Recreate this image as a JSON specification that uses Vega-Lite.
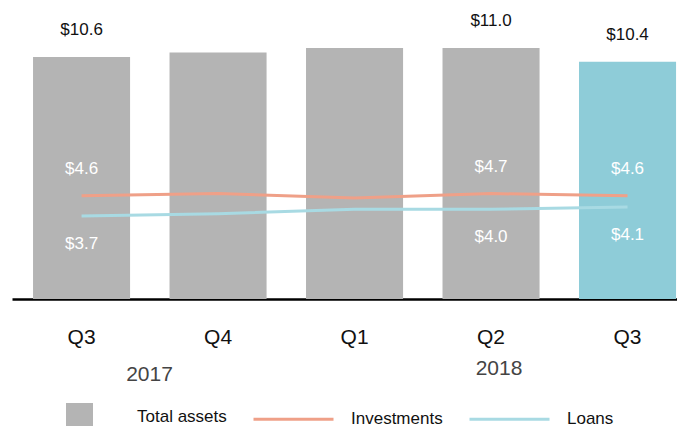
{
  "$schema": "https://vega.github.io/schema/vega-lite/v6.json",
  "width": 665,
  "height": 299,
  "autosize": "none",
  "padding": {"left": 12, "top": 0, "right": 0, "bottom": 127},
  "background": "white",
  "config": {"view": {"stroke": null}, "font": "Liberation Sans"},
  "data": {
    "values": [
      {"q": "Q3 2017", "Total assets": 10.6, "Investments": 4.6, "Loans": 3.7, "show": true, "highlight": false},
      {"q": "Q4 2017", "Total assets": 10.8, "Investments": 4.7, "Loans": 3.8, "show": false, "highlight": false},
      {"q": "Q1 2018", "Total assets": 11.0, "Investments": 4.5, "Loans": 4.0, "show": false, "highlight": false},
      {"q": "Q2 2018", "Total assets": 11.0, "Investments": 4.7, "Loans": 4.0, "show": true, "highlight": false},
      {"q": "Q3 2018", "Total assets": 10.4, "Investments": 4.6, "Loans": 4.1, "show": true, "highlight": true}
    ]
  },
  "encoding": {
    "x": {
      "field": "q", "type": "ordinal", "sort": null,
      "scale": {"domain": ["Q3 2017", "Q4 2017", "Q1 2018", "Q2 2018", "Q3 2018"], "paddingInner": 0.289, "paddingOuter": 0.0805, "align": 0.957},
      "axis": {
        "title": null, "labelAngle": 0, "ticks": false, "grid": false,
        "domainColor": "#000000", "domainWidth": 2.5,
        "labelFontSize": 21, "labelColor": "#111111", "labelBaseline": "middle", "labelPadding": 38,
        "labelFont": "Liberation Sans",
        "labelExpr": "split(datum.label, ' ')[0]"
      }
    }
  },
  "layer": [
    {
      "encoding": {
        "y": {"type": "quantitative", "scale": {"domain": [0, 13.1], "nice": false, "zero": true}, "axis": null}
      },
      "layer": [
        {
          "transform": [{"fold": ["Total assets"], "as": ["series", "val"]}],
          "mark": {"type": "bar"},
          "encoding": {
            "y": {"field": "val", "type": "quantitative"},
            "color": {
              "condition": {"test": "datum.highlight", "value": "#8ECCD8"},
              "field": "series", "type": "nominal",
              "scale": {"domain": ["Total assets", "Investments", "Loans"], "range": ["#B4B4B4", "#EFA088", "#A8DAE3"]},
              "legend": {
                "title": null, "orient": "none", "direction": "horizontal",
                "legendX": 59, "legendY": 408,
                "symbolType": "stroke", "symbolSize": 6400, "symbolStrokeWidth": 3,
                "labelFontSize": 17, "labelColor": "#111111", "labelFont": "Liberation Sans",
                "labelOffset": 49, "columnPadding": 20,
                "encode": {
                  "symbols": {
                    "update": {
                      "shape": {"signal": "datum.value === 'Total assets' ? 'square' : 'stroke'"},
                      "size": {"signal": "datum.value === 'Total assets' ? 729 : 6400"},
                      "fill": {"signal": "datum.value === 'Total assets' ? '#B4B4B4' : 'transparent'"},
                      "stroke": {"signal": "datum.value === 'Total assets' ? 'transparent' : (datum.value === 'Investments' ? '#EFA088' : '#A8DAE3')"},
                      "strokeWidth": {"signal": "datum.value === 'Total assets' ? 0 : 3"},
                      "opacity": {"value": 1}
                    }
                  }
                }
              }
            }
          }
        },
        {
          "transform": [{"filter": "datum.show"}],
          "mark": {"type": "text", "baseline": "middle", "dy": -27, "fontSize": 17, "color": "#111111"},
          "encoding": {
            "y": {"field": "Total assets", "type": "quantitative"},
            "text": {"field": "Total assets", "type": "quantitative", "format": "$.1f"}
          }
        },
        {
          "transform": [{"filter": "datum.q === 'Q3 2017'"}],
          "mark": {"type": "text", "baseline": "middle", "dx": 68, "dy": 76, "fontSize": 21, "color": "#444444", "text": "2017"},
          "encoding": {"y": {"datum": 0}}
        },
        {
          "transform": [{"filter": "datum.q === 'Q2 2018'"}],
          "mark": {"type": "text", "baseline": "middle", "dx": 8, "dy": 70, "fontSize": 21, "color": "#444444", "text": "2018"},
          "encoding": {"y": {"datum": 0}}
        }
      ]
    },
    {
      "encoding": {
        "y": {"type": "quantitative", "scale": {"domain": [0, 13.33], "nice": false, "zero": true}, "axis": null}
      },
      "layer": [
        {
          "transform": [{"fold": ["Investments", "Loans"], "as": ["series", "val"]}],
          "mark": {"type": "line", "strokeWidth": 3},
          "encoding": {
            "y": {"field": "val", "type": "quantitative"},
            "color": {"field": "series", "type": "nominal"}
          }
        },
        {
          "transform": [{"filter": "datum.show"}],
          "mark": {"type": "text", "baseline": "middle", "dy": -27, "fontSize": 17, "color": "#FFFFFF"},
          "encoding": {
            "y": {"field": "Investments", "type": "quantitative"},
            "text": {"field": "Investments", "type": "quantitative", "format": "$.1f"}
          }
        },
        {
          "transform": [{"filter": "datum.show"}],
          "mark": {"type": "text", "baseline": "middle", "dy": 28, "fontSize": 17, "color": "#FFFFFF"},
          "encoding": {
            "y": {"field": "Loans", "type": "quantitative"},
            "text": {"field": "Loans", "type": "quantitative", "format": "$.1f"}
          }
        }
      ]
    }
  ],
  "resolve": {"scale": {"y": "independent"}}
}
